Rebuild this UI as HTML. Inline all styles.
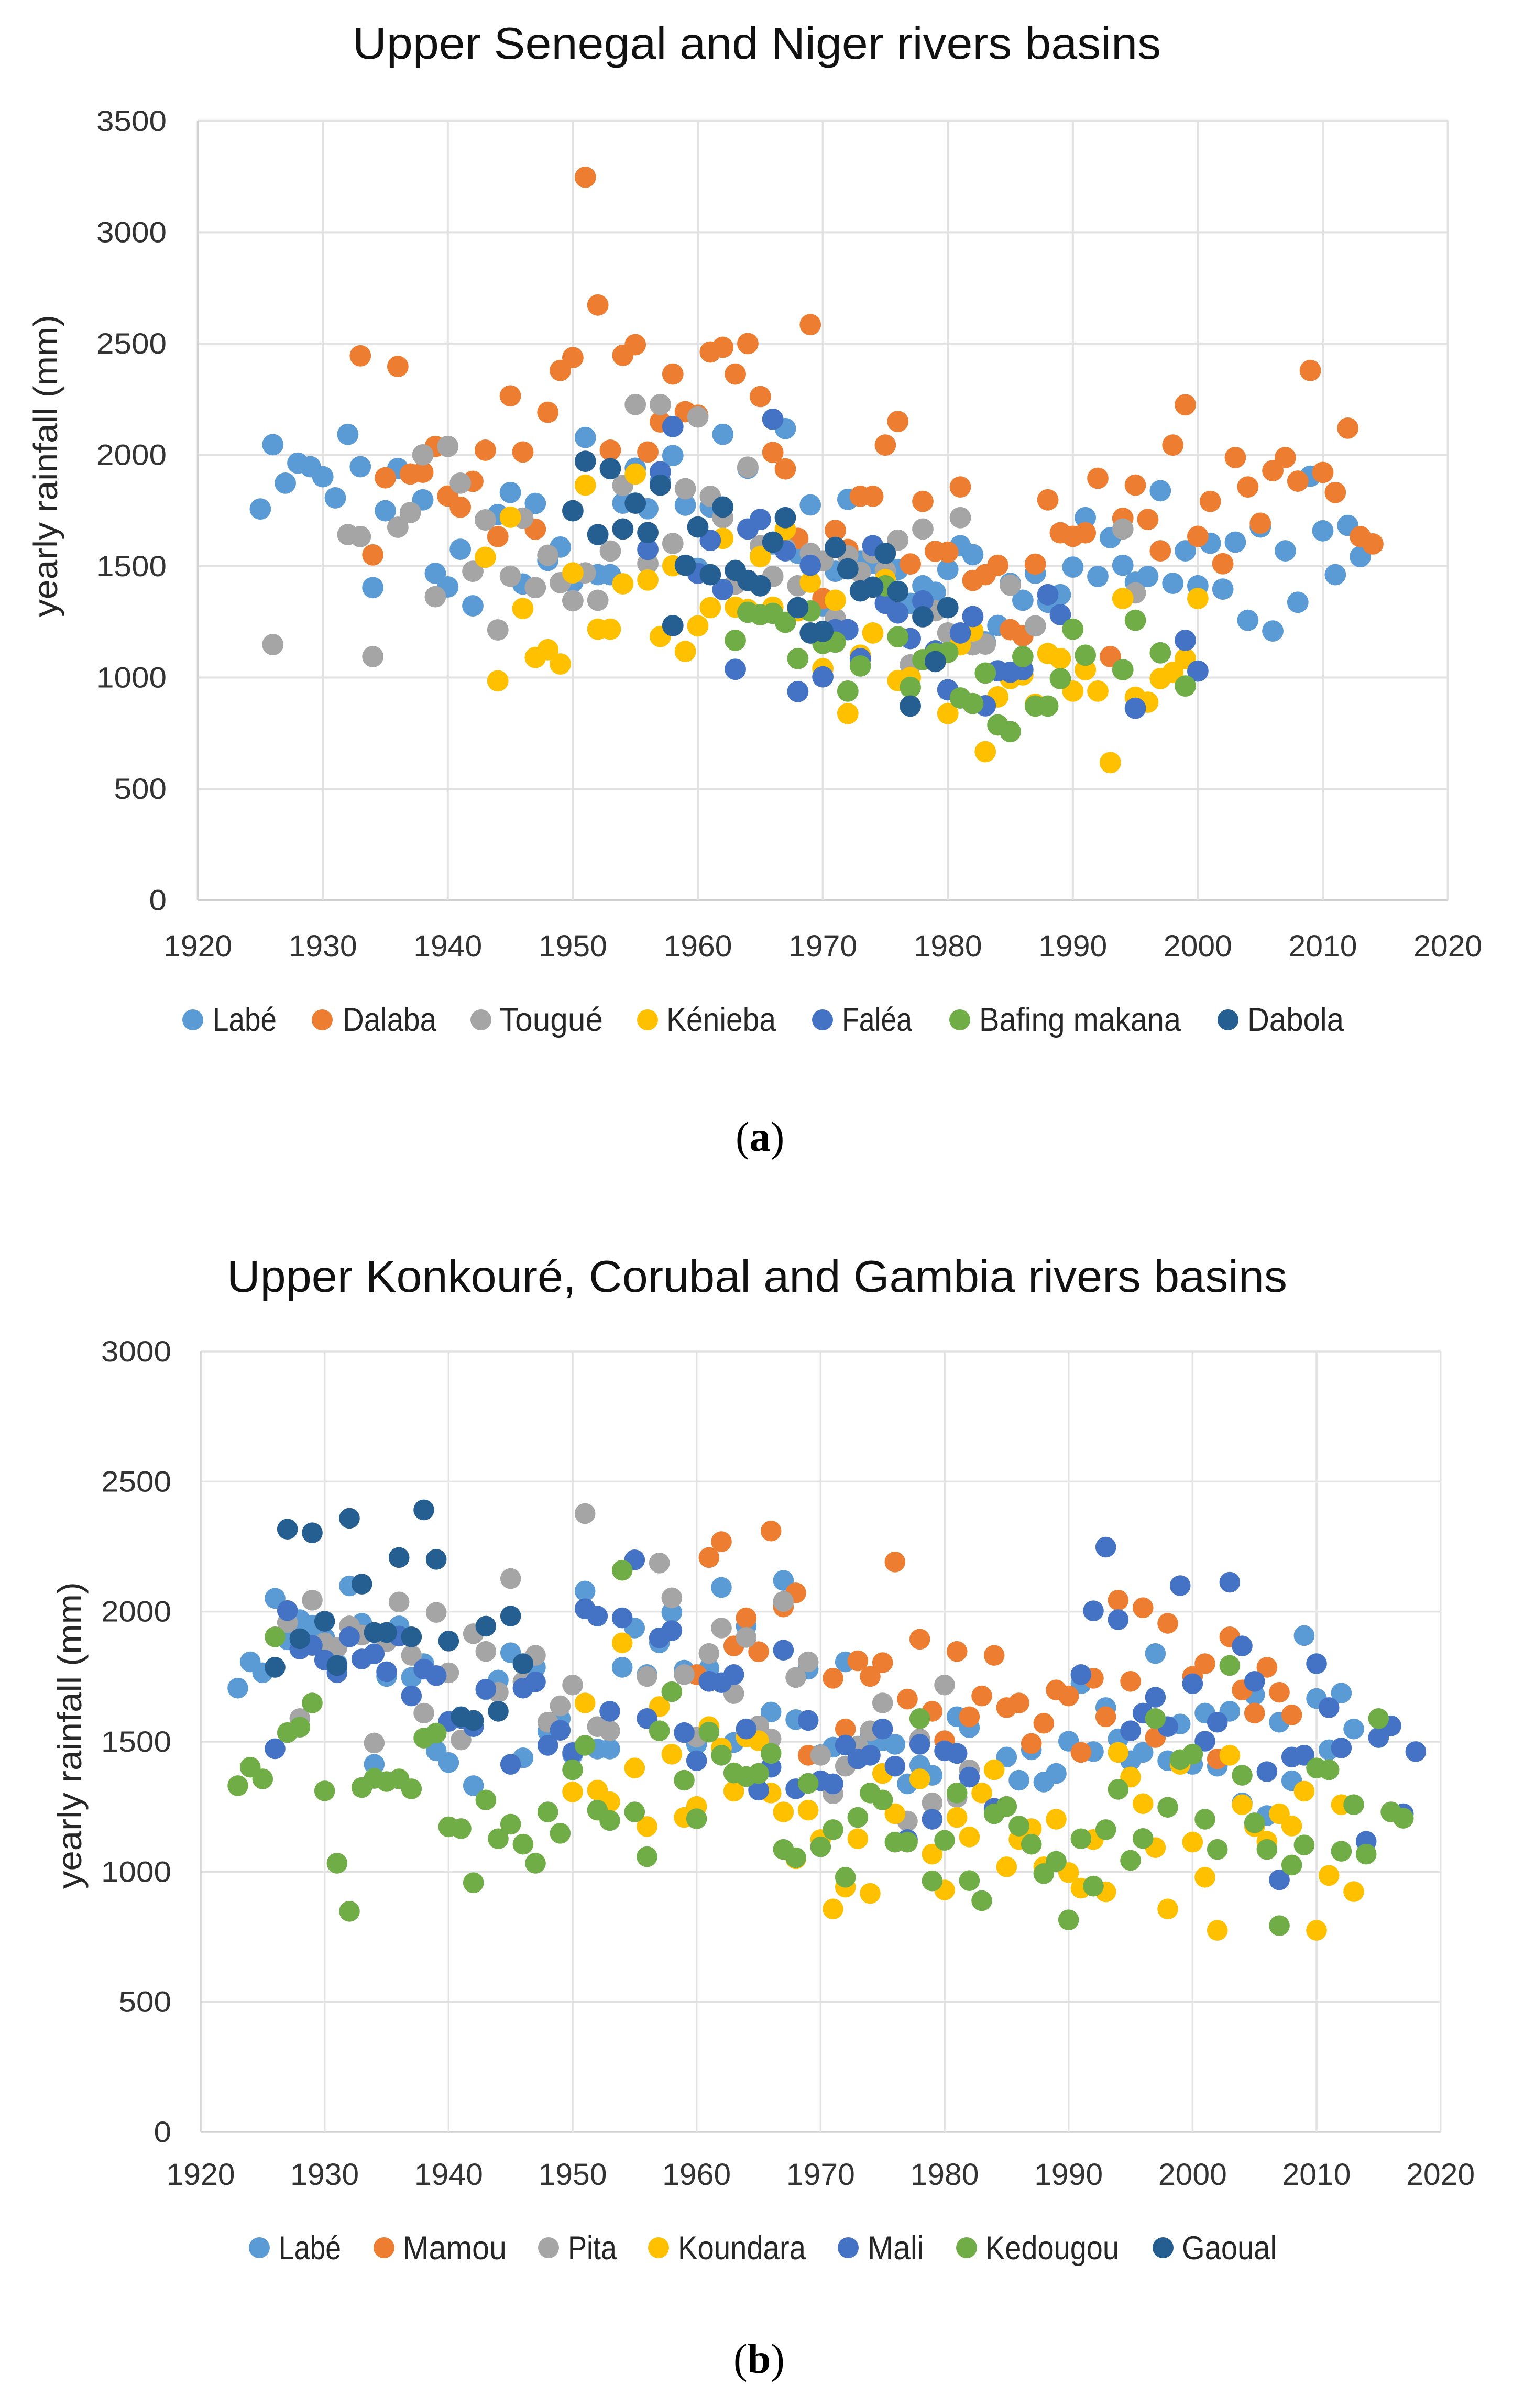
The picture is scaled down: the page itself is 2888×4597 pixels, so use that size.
<!DOCTYPE html>
<html lang="en">
<head>
<meta charset="utf-8">
<title>Yearly rainfall in river basins</title>
<style>
html,body{margin:0;padding:0;background:#fff;}
svg{display:block;}
text{font-family:"Liberation Sans",sans-serif;}
.leg{font-size:63px;fill:#262626;}
.ttl{font-size:85px;fill:#111;}
.axt{font-size:64px;fill:#262626;}
.cap{font-family:"Liberation Serif",serif;font-size:80px;fill:#000;}
</style>
</head>
<body>
<svg id="figure" xmlns="http://www.w3.org/2000/svg" width="2888" height="4597" viewBox="0 0 2888 4597">
<rect x="0" y="0" width="2888" height="4597" fill="#fff"/>

<g id="chart-a">
<text class="ttl" x="673" y="112" textLength="1543" lengthAdjust="spacingAndGlyphs">Upper Senegal and Niger rivers basins</text>
<text class="axt" transform="translate(109,1178) rotate(-90)" textLength="577" lengthAdjust="spacingAndGlyphs">yearly rainfall (mm)</text>
</g>
<g>
<g><circle cx="368" cy="1947" r="20" fill="#5B9BD5"/><text class="leg" x="406" y="1968" textLength="122" lengthAdjust="spacingAndGlyphs">Labé</text></g>
<g><circle cx="615" cy="1947" r="20" fill="#ED7D31"/><text class="leg" x="654" y="1968" textLength="179" lengthAdjust="spacingAndGlyphs">Dalaba</text></g>
<g><circle cx="918" cy="1947" r="20" fill="#A5A5A5"/><text class="leg" x="953" y="1968" textLength="198" lengthAdjust="spacingAndGlyphs">Tougué</text></g>
<g><circle cx="1236" cy="1947" r="20" fill="#FFC000"/><text class="leg" x="1272" y="1968" textLength="209" lengthAdjust="spacingAndGlyphs">Kénieba</text></g>
<g><circle cx="1570" cy="1947" r="20" fill="#4472C4"/><text class="leg" x="1607" y="1968" textLength="134" lengthAdjust="spacingAndGlyphs">Faléa</text></g>
<g><circle cx="1832" cy="1947" r="20" fill="#70AD47"/><text class="leg" x="1869" y="1968" textLength="385" lengthAdjust="spacingAndGlyphs">Bafing makana</text></g>
<g><circle cx="2344" cy="1947" r="20" fill="#255E91"/><text class="leg" x="2381" y="1968" textLength="184" lengthAdjust="spacingAndGlyphs">Dabola</text></g>
</g>
<text class="cap" x="1404" y="2197">(<tspan font-weight="bold">a</tspan>)</text>

<g id="chart-b">
<text class="ttl" x="433" y="2466" textLength="2024" lengthAdjust="spacingAndGlyphs">Upper Konkouré, Corubal and Gambia rivers basins</text>
<text class="axt" transform="translate(155,3606) rotate(-90)" textLength="586" lengthAdjust="spacingAndGlyphs">yearly rainfall (mm)</text>
</g>
<g>
<g><circle cx="495" cy="4291" r="20" fill="#5B9BD5"/><text class="leg" x="532" y="4313" textLength="119" lengthAdjust="spacingAndGlyphs">Labé</text></g>
<g><circle cx="733" cy="4291" r="20" fill="#ED7D31"/><text class="leg" x="769" y="4313" textLength="198" lengthAdjust="spacingAndGlyphs">Mamou</text></g>
<g><circle cx="1047" cy="4291" r="20" fill="#A5A5A5"/><text class="leg" x="1084" y="4313" textLength="93" lengthAdjust="spacingAndGlyphs">Pita</text></g>
<g><circle cx="1257" cy="4291" r="20" fill="#FFC000"/><text class="leg" x="1294" y="4313" textLength="244" lengthAdjust="spacingAndGlyphs">Koundara</text></g>
<g><circle cx="1619" cy="4291" r="20" fill="#4472C4"/><text class="leg" x="1656" y="4313" textLength="108" lengthAdjust="spacingAndGlyphs">Mali</text></g>
<g><circle cx="1845" cy="4291" r="20" fill="#70AD47"/><text class="leg" x="1881" y="4313" textLength="255" lengthAdjust="spacingAndGlyphs">Kedougou</text></g>
<g><circle cx="2220" cy="4291" r="20" fill="#255E91"/><text class="leg" x="2256" y="4313" textLength="181" lengthAdjust="spacingAndGlyphs">Gaoual</text></g>
</g>
<text class="cap" x="1400" y="4530">(<tspan font-weight="bold">b</tspan>)</text>
</svg>

<script>
/* Shared tick labels */
const xTickYears = [1920,1930,1940,1950,1960,1970,1980,1990,2000,2010,2020];
const yTicksA = [0,500,1000,1500,2000,2500,3000,3500];
const yTicksB = [0,500,1000,1500,2000,2500,3000];

/* Chart (a) series: [year, yearly rainfall in mm] */
const aLabe = [[1925,1757],[1926,2046],[1927,1873],[1928,1963],[1929,1947],[1930,1902],[1931,1807],[1932,2092],[1933,1947],[1934,1404],[1935,1749],[1936,1939],[1938,1798],[1939,1468],[1940,1407],[1941,1576],[1942,1322],[1943,1708],[1944,1732],[1945,1831],[1946,1420],[1947,1782],[1948,1526],[1949,1586],[1950,1429],[1951,2078],[1952,1462],[1953,1462],[1954,1783],[1955,1940],[1956,1758],[1957,1880],[1958,1997],[1959,1774],[1960,1490],[1961,1766],[1962,2092],[1963,1480],[1964,1940],[1965,1546],[1966,1600],[1967,2118],[1968,1558],[1969,1775],[1970,1322],[1971,1477],[1972,1800],[1973,1524],[1974,1513],[1975,1502],[1976,1485],[1977,1333],[1978,1412],[1979,1383],[1980,1485],[1981,1592],[1982,1552],[1983,1160],[1984,1234],[1985,1423],[1986,1347],[1987,1468],[1988,1338],[1989,1372],[1990,1496],[1991,1718],[1992,1454],[1993,1628],[1994,1504],[1995,1428],[1996,1454],[1997,1839],[1998,1423],[1999,1569],[2000,1412],[2001,1603],[2002,1397],[2003,1608],[2004,1257],[2005,1676],[2006,1209],[2007,1569],[2008,1338],[2009,1904],[2010,1659],[2011,1462],[2012,1683],[2013,1543]];
const aDalaba = [[1933,2445],[1934,1551],[1935,1897],[1936,2397],[1937,1914],[1938,1922],[1939,2038],[1940,1815],[1941,1765],[1942,1881],[1943,2021],[1944,1633],[1945,2265],[1946,2013],[1947,1666],[1948,2191],[1949,2379],[1950,2437],[1951,3247],[1952,2673],[1953,2021],[1954,2447],[1955,2495],[1956,2013],[1957,2148],[1958,2363],[1959,2194],[1960,2178],[1961,2462],[1962,2483],[1963,2363],[1964,2500],[1965,2262],[1966,2011],[1967,1937],[1968,1625],[1969,2585],[1970,1355],[1971,1661],[1972,1575],[1973,1814],[1974,1814],[1975,2044],[1976,2150],[1977,1510],[1978,1791],[1979,1567],[1980,1563],[1981,1856],[1982,1436],[1983,1462],[1984,1504],[1985,1215],[1986,1187],[1987,1509],[1988,1798],[1989,1650],[1990,1634],[1991,1650],[1992,1895],[1993,1094],[1994,1715],[1995,1864],[1996,1710],[1997,1569],[1998,2044],[1999,2225],[2000,1634],[2001,1791],[2002,1511],[2003,1988],[2004,1856],[2005,1693],[2006,1929],[2007,1988],[2008,1882],[2009,2379],[2010,1921],[2011,1831],[2012,2120],[2013,1633],[2014,1600]];
const aTougue = [[1926,1148],[1932,1642],[1933,1633],[1934,1094],[1936,1675],[1937,1741],[1938,2000],[1939,1363],[1940,2038],[1941,1873],[1942,1477],[1943,1708],[1944,1214],[1945,1455],[1946,1716],[1947,1404],[1948,1549],[1949,1426],[1950,1345],[1951,1470],[1952,1347],[1953,1568],[1954,1863],[1955,2226],[1956,1512],[1957,2226],[1958,1602],[1959,1848],[1960,2170],[1961,1814],[1962,1718],[1963,1420],[1964,1945],[1965,1592],[1966,1454],[1967,1580],[1968,1412],[1969,1558],[1970,1524],[1971,1265],[1972,1547],[1973,1473],[1974,1560],[1975,1480],[1976,1617],[1977,1057],[1978,1667],[1979,1300],[1980,1200],[1981,1718],[1982,1147],[1983,1150],[1985,1415],[1987,1232],[1994,1667],[1995,1380]];
const aKenieba = [[1943,1540],[1944,985],[1945,1720],[1946,1310],[1947,1090],[1948,1125],[1949,1061],[1950,1470],[1951,1864],[1952,1217],[1953,1217],[1954,1421],[1955,1914],[1956,1438],[1957,1184],[1958,1502],[1959,1117],[1960,1232],[1961,1314],[1962,1625],[1963,1316],[1964,1305],[1965,1543],[1966,1316],[1967,1665],[1968,1300],[1969,1428],[1970,1040],[1971,1347],[1972,838],[1973,1100],[1974,1200],[1975,1440],[1976,986],[1977,1000],[1980,838],[1981,1147],[1982,1209],[1983,667],[1984,913],[1985,995],[1986,1012],[1987,880],[1988,1108],[1989,1085],[1990,939],[1991,1035],[1992,939],[1993,618],[1994,1355],[1995,911],[1996,889],[1997,995],[1998,1023],[1999,1085],[2000,1355]];
const aFalea = [[1956,1575],[1957,1924],[1958,2127],[1960,1468],[1961,1616],[1962,1395],[1963,1037],[1964,1667],[1965,1710],[1966,2160],[1967,1569],[1968,937],[1969,1504],[1970,1003],[1971,1215],[1972,1215],[1973,1085],[1974,1592],[1975,1333],[1976,1290],[1977,1175],[1978,1344],[1979,1120],[1980,945],[1981,1200],[1982,1274],[1983,873],[1984,1030],[1985,1024],[1986,1035],[1988,1372],[1989,1282],[1995,862],[1999,1167],[2000,1029]];
const aBafing = [[1963,1167],[1964,1293],[1965,1282],[1966,1288],[1967,1248],[1968,1085],[1969,1299],[1970,1153],[1971,1159],[1972,939],[1973,1052],[1975,1412],[1976,1183],[1977,956],[1978,1080],[1979,1108],[1980,1113],[1981,908],[1982,883],[1983,1020],[1984,787],[1985,757],[1986,1094],[1987,872],[1988,872],[1989,995],[1990,1217],[1991,1100],[1994,1035],[1995,1257],[1997,1111],[1999,962]];
const aDabola = [[1950,1749],[1951,1971],[1952,1642],[1953,1938],[1954,1667],[1955,1783],[1956,1651],[1957,1864],[1958,1233],[1959,1504],[1960,1676],[1961,1462],[1962,1766],[1963,1481],[1964,1436],[1965,1412],[1966,1608],[1967,1718],[1968,1314],[1969,1200],[1970,1207],[1971,1584],[1972,1488],[1973,1389],[1974,1406],[1975,1558],[1976,1387],[1977,872],[1978,1273],[1979,1072],[1980,1314]];

/* Chart (b) series: [year, yearly rainfall in mm] */
const bLabe = [[1923,1706],[1924,1807],[1925,1765],[1926,2051],[1927,1892],[1928,1969],[1929,1948],[1930,1900],[1931,1800],[1932,2099],[1933,1955],[1934,1413],[1935,1751],[1936,1945],[1937,1747],[1938,1800],[1939,1465],[1940,1420],[1942,1331],[1943,1700],[1944,1737],[1945,1842],[1946,1438],[1947,1786],[1948,1540],[1949,1589],[1950,1450],[1951,2079],[1952,1472],[1953,1472],[1954,1786],[1955,1937],[1956,1758],[1957,1880],[1958,1997],[1959,1775],[1960,1490],[1961,1782],[1962,2093],[1963,1497],[1964,1944],[1965,1540],[1966,1614],[1967,2120],[1968,1585],[1969,1779],[1970,1450],[1971,1479],[1972,1807],[1973,1480],[1974,1520],[1975,1504],[1976,1490],[1977,1338],[1978,1409],[1979,1371],[1981,1596],[1982,1554],[1984,1240],[1985,1441],[1986,1352],[1987,1469],[1988,1345],[1989,1378],[1990,1502],[1991,1723],[1992,1462],[1993,1631],[1994,1511],[1995,1427],[1996,1459],[1997,1839],[1998,1427],[1999,1568],[2000,1413],[2001,1610],[2002,1406],[2003,1617],[2004,1265],[2005,1680],[2006,1216],[2007,1575],[2008,1350],[2009,1908],[2010,1666],[2011,1469],[2012,1687],[2013,1549]];
const bMamou = [[1960,1758],[1961,2208],[1962,2269],[1963,1868],[1964,1976],[1965,1846],[1966,2310],[1967,2018],[1968,2072],[1969,1448],[1971,1744],[1972,1549],[1973,1811],[1974,1751],[1975,1804],[1976,2191],[1977,1664],[1978,1894],[1979,1617],[1980,1504],[1981,1847],[1982,1596],[1983,1676],[1984,1832],[1985,1631],[1986,1649],[1987,1493],[1988,1571],[1989,1699],[1990,1676],[1991,1459],[1992,1744],[1993,1596],[1994,2044],[1995,1732],[1996,2015],[1997,1516],[1998,1955],[2000,1751],[2001,1800],[2002,1434],[2003,1903],[2004,1699],[2005,1610],[2006,1786],[2007,1690],[2008,1603]];
const bPita = [[1927,1958],[1928,1589],[1929,2044],[1930,1880],[1931,1863],[1932,1945],[1933,1910],[1934,1495],[1935,1885],[1936,2037],[1937,1832],[1938,1610],[1939,1997],[1940,1765],[1941,1507],[1942,1915],[1943,1847],[1944,1690],[1945,2127],[1946,1730],[1947,1832],[1948,1575],[1949,1638],[1950,1718],[1951,2377],[1952,1558],[1953,1542],[1956,1751],[1957,2187],[1958,2053],[1959,1758],[1960,1518],[1961,1839],[1962,1937],[1963,1685],[1964,1901],[1965,1561],[1966,1511],[1967,2039],[1968,1747],[1969,1807],[1970,1448],[1971,1300],[1972,1406],[1973,1483],[1974,1542],[1975,1649],[1977,1195],[1978,1511],[1979,1265],[1980,1718],[1981,1286],[1982,1392]];
const bKoundara = [[1950,1307],[1951,1649],[1952,1314],[1953,1269],[1954,1880],[1955,1399],[1956,1174],[1957,1635],[1958,1452],[1959,1209],[1960,1251],[1961,1558],[1962,1476],[1963,1310],[1964,1518],[1965,1504],[1966,1303],[1967,1230],[1968,1050],[1969,1237],[1970,1124],[1971,857],[1972,941],[1973,1127],[1974,917],[1975,1378],[1976,1223],[1977,1115],[1978,1357],[1979,1068],[1980,930],[1981,1209],[1982,1134],[1983,1303],[1984,1392],[1985,1019],[1986,1124],[1987,1166],[1988,1019],[1989,1202],[1990,997],[1991,937],[1992,1124],[1993,923],[1994,1459],[1995,1364],[1996,1262],[1997,1093],[1998,857],[1999,1413],[2000,1114],[2001,979],[2002,775],[2003,1448],[2004,1258],[2005,1174],[2006,1117],[2007,1223],[2008,1176],[2009,1310],[2010,775],[2011,986],[2012,1258],[2013,924]];
const bMali = [[1926,1473],[1927,2004],[1928,1856],[1929,1870],[1930,1814],[1931,1765],[1932,1903],[1933,1818],[1934,1838],[1935,1769],[1936,1906],[1937,1676],[1938,1779],[1939,1754],[1940,1578],[1941,1590],[1942,1558],[1943,1702],[1945,1413],[1946,1706],[1947,1730],[1948,1486],[1949,1544],[1950,1458],[1951,2011],[1952,1983],[1953,1617],[1954,1976],[1955,2199],[1956,1589],[1957,1899],[1958,1927],[1959,1535],[1960,1427],[1961,1732],[1962,1727],[1963,1758],[1964,1549],[1965,1314],[1966,1402],[1967,1852],[1968,1319],[1969,1582],[1970,1350],[1971,1338],[1972,1487],[1973,1434],[1974,1448],[1975,1549],[1976,1406],[1977,1124],[1978,1490],[1979,1202],[1980,1465],[1981,1455],[1982,1364],[1984,1244],[1991,1758],[1992,2003],[1993,2248],[1994,1969],[1995,1542],[1996,1610],[1997,1671],[1998,1558],[1999,2100],[2000,1723],[2001,1502],[2002,1575],[2003,2113],[2004,1868],[2005,1732],[2006,1385],[2007,969],[2008,1441],[2009,1448],[2010,1800],[2011,1631],[2012,1476],[2014,1117],[2015,1516],[2016,1561],[2017,1223],[2018,1462]];
const bKedougou = [[1923,1331],[1924,1402],[1925,1357],[1926,1903],[1927,1535],[1928,1556],[1929,1649],[1930,1311],[1931,1033],[1932,848],[1933,1324],[1934,1359],[1935,1347],[1936,1357],[1937,1319],[1938,1514],[1939,1533],[1940,1173],[1941,1166],[1942,958],[1943,1276],[1944,1127],[1945,1183],[1946,1106],[1947,1033],[1948,1230],[1949,1148],[1950,1392],[1951,1486],[1952,1237],[1953,1197],[1954,2159],[1955,1230],[1956,1058],[1957,1542],[1958,1692],[1959,1352],[1960,1204],[1961,1537],[1962,1448],[1963,1380],[1964,1366],[1965,1378],[1966,1455],[1967,1086],[1968,1054],[1969,1340],[1970,1096],[1971,1162],[1972,979],[1973,1209],[1974,1303],[1975,1276],[1976,1114],[1977,1114],[1978,1589],[1979,965],[1980,1121],[1981,1303],[1982,966],[1983,889],[1984,1223],[1985,1251],[1986,1176],[1987,1106],[1988,993],[1989,1040],[1990,815],[1991,1127],[1992,945],[1993,1162],[1994,1317],[1995,1044],[1996,1128],[1997,1589],[1998,1248],[1999,1431],[2000,1452],[2001,1202],[2002,1086],[2003,1793],[2004,1371],[2005,1188],[2006,1086],[2007,793],[2008,1026],[2009,1103],[2010,1399],[2011,1392],[2012,1079],[2013,1258],[2014,1068],[2015,1589],[2016,1230],[2017,1206]];
const bGaoual = [[1926,1786],[1927,2317],[1928,1896],[1929,2303],[1930,1963],[1931,1793],[1932,2359],[1933,2106],[1934,1920],[1935,1920],[1936,2208],[1937,1903],[1938,2391],[1939,2201],[1940,1887],[1941,1596],[1942,1582],[1943,1944],[1944,1617],[1945,1983],[1946,1800]];

const NS = 'http://www.w3.org/2000/svg';
const seriesColors = ['#5B9BD5','#ED7D31','#A5A5A5','#FFC000','#4472C4','#70AD47','#255E91'];

function makeAxis(d0, d1, r0, r1) {
  return function (v) { return r0 + (v - d0) / (d1 - d0) * (r1 - r0); };
}

function drawChart(id, prefix, box, yTicks, seriesList, seriesNames, radius, gridW, yLabelRight, xLabelY) {
  const root = document.getElementById(id);
  const xScale = makeAxis(xTickYears[0], xTickYears[xTickYears.length - 1], box.left, box.right);
  const yScale = makeAxis(0, yTicks[yTicks.length - 1], box.bottom, box.top);

  const gridGroup = document.createElementNS(NS, 'g');
  
  
  root.appendChild(gridGroup);

  yTicks.forEach(function (t) {
    const line = document.createElementNS(NS, 'line');
    line.setAttribute('x1', box.left);
    line.setAttribute('x2', box.right);
    line.setAttribute('y1', yScale(t));
    line.setAttribute('y2', yScale(t));
    line.setAttribute('stroke', t === 0 ? '#D0D0D0' : '#E2E2E2');
    line.setAttribute('stroke-width', gridW);
    
    
    gridGroup.appendChild(line);

    const label = document.createElementNS(NS, 'text');
    const s = String(t);
    label.setAttribute('x', yLabelRight);
    label.setAttribute('y', yScale(t) + 19);
    label.setAttribute('text-anchor', 'end');
    label.setAttribute('font-size', '56');
    label.setAttribute('fill', '#333333');
    label.setAttribute('textLength', s.length * 33.5);
    label.setAttribute('lengthAdjust', 'spacingAndGlyphs');
    
    
    label.textContent = s;
    root.appendChild(label);
  });

  xTickYears.forEach(function (t) {
    const line = document.createElementNS(NS, 'line');
    line.setAttribute('x1', xScale(t));
    line.setAttribute('x2', xScale(t));
    line.setAttribute('y1', box.top);
    line.setAttribute('y2', box.bottom);
    line.setAttribute('stroke', t === xTickYears[0] ? '#D4D4D4' : '#E2E2E2');
    line.setAttribute('stroke-width', gridW);
    
    
    gridGroup.appendChild(line);

    const label = document.createElementNS(NS, 'text');
    label.setAttribute('x', xScale(t));
    label.setAttribute('y', xLabelY);
    label.setAttribute('text-anchor', 'middle');
    label.setAttribute('font-size', '58');
    label.setAttribute('fill', '#333333');
    label.setAttribute('textLength', '131');
    label.setAttribute('lengthAdjust', 'spacingAndGlyphs');
    
    
    label.textContent = String(t);
    root.appendChild(label);
  });

  seriesList.forEach(function (points, i) {
    const group = document.createElementNS(NS, 'g');
    group.setAttribute('fill', seriesColors[i]);
    
    
    root.appendChild(group);
    points.forEach(function (p) {
      const dot = document.createElementNS(NS, 'circle');
      dot.setAttribute('cx', xScale(p[0]));
      dot.setAttribute('cy', yScale(p[1]));
      dot.setAttribute('r', radius);
      
      
      group.appendChild(dot);
    });
  });
}

drawChart('chart-a', 'chart-a',
  {left: 377.6, right: 2763.6, top: 230.8, bottom: 1718.5},
  yTicksA,
  [aLabe, aDalaba, aTougue, aKenieba, aFalea, aBafing, aDabola],
  ['labe','dalaba','tougue','kenieba','falea','bafing-makana','dabola'],
  20.4, 4, 318, 1826);

drawChart('chart-b', 'chart-b',
  {left: 383, right: 2749.7, top: 2580, bottom: 4070},
  yTicksB,
  [bLabe, bMamou, bPita, bKoundara, bMali, bKedougou, bGaoual],
  ['labe','mamou','pita','koundara','mali','kedougou','gaoual'],
  19.8, 3.5, 327, 4171);
</script>
</body>
</html>
